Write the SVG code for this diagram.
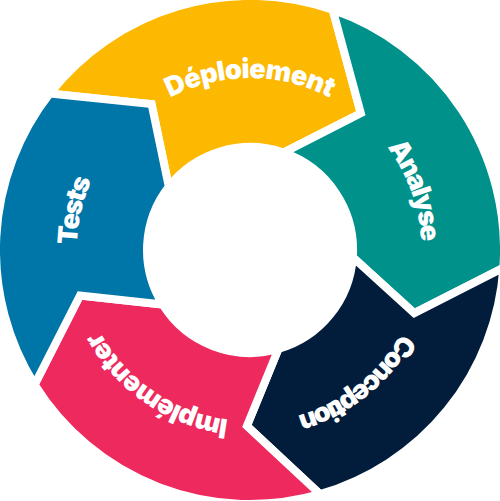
<svg xmlns="http://www.w3.org/2000/svg" width="500" height="501" viewBox="0 0 500 501">
  <style>
    .seg { stroke: #ffffff; stroke-width: 8; stroke-linejoin: miter; }
    .lbl { font-family: Inter, "Open Sans", "DejaVu Sans", sans-serif; font-weight: 900; font-size: 27px; fill: #ffffff; }
  </style>
  <defs>
    <path id="p-dep" d="M 78.03 247 A 172 172 0 0 1 421.97 247"/>
    <path id="p-ana" d="M 194.7 87.1 A 172 172 0 0 1 310.9 410.8"/>
    <path id="p-con" d="M 386.5 145.3 A 172 172 0 0 1 117.3 359.4"/>
    <path id="p-imp" d="M 390.0 349.9 A 172 172 0 0 1 106.6 155.1"/>
    <path id="p-tes" d="M 209.1 417.1 A 172 172 0 0 1 285.0 81.6"/>
  </defs>
  <rect width="500" height="501" fill="#ffffff"/>
  <g id="connectors"/>
  <g id="deploiement">
    <path class="seg" fill="#FDB801" d="M 49.8 93.6 A 254 254 0 0 1 332.7 9.8 L 360.8 113.2 L 283.5 152.6 A 103 103 0 0 0 168.8 186.6 L 151.6 104.1 Z"/>
    <text class="lbl"><textPath href="#p-dep" startOffset="50%" text-anchor="middle" textLength="166" lengthAdjust="spacing">Déploiement</textPath></text>
  </g>
  <g id="analyse">
    <path class="seg" fill="#00928A" d="M 332.7 9.8 A 254 254 0 0 1 503.4 267.7 L 414.3 313.1 L 352.8 257.2 A 103 103 0 0 0 283.5 152.6 L 360.8 113.2 Z"/>
    <text class="lbl"><textPath href="#p-ana" startOffset="50%" text-anchor="middle" textLength="102" lengthAdjust="spacing">Analyse</textPath></text>
  </g>
  <g id="conception">
    <path class="seg" fill="#021D3B" d="M 503.4 267.7 A 254 254 0 0 1 320.0 494.2 L 246.9 426.0 L 278.4 349.0 A 103 103 0 0 0 352.8 257.2 L 414.3 313.1 Z"/>
    <text class="lbl"><textPath href="#p-con" startOffset="50%" text-anchor="middle" textLength="136" lengthAdjust="spacing">Conception</textPath></text>
  </g>
  <g id="implementer">
    <path class="seg" fill="#ED295E" d="M 320.0 494.2 A 254 254 0 0 1 34.6 384.6 L 80.0 295.5 L 162.7 304.6 A 103 103 0 0 0 278.4 349.0 L 246.9 426.0 Z"/>
    <text class="lbl"><textPath href="#p-imp" startOffset="50%" text-anchor="middle" textLength="162" lengthAdjust="spacing">Implémenter</textPath></text>
  </g>
  <g id="tests">
    <path class="seg" fill="#0075A8" d="M 34.6 384.6 A 254 254 0 0 1 49.8 93.6 L 151.6 104.1 L 168.8 186.6 A 103 103 0 0 0 162.7 304.6 L 80.0 295.5 Z"/>
    <text class="lbl"><textPath href="#p-tes" startOffset="50%" text-anchor="middle" textLength="67" lengthAdjust="spacing">Tests</textPath></text>
  </g>
</svg>
